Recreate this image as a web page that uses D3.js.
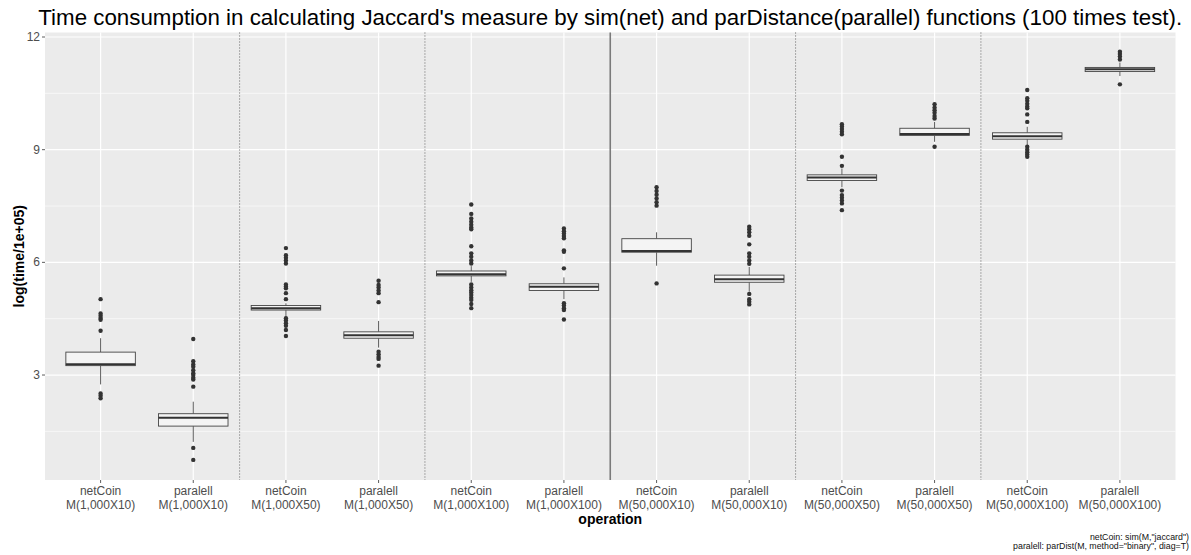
<!DOCTYPE html>
<html>
<head>
<meta charset="utf-8">
<script src="https://cdn.jsdelivr.net/npm/d3@7"></script>
<style>
  body { margin: 0; background: #fff; }
  text { font-family: "Liberation Sans", Arial, sans-serif; }
</style>
</head>
<body>
<svg id="chart" width="1191" height="555"></svg>
<script>
// categories (x axis)
const categories = ["nc1k10", "pa1k10", "nc1k50", "pa1k50", "nc1k100", "pa1k100",
                    "nc50k10", "pa50k10", "nc50k50", "pa50k50", "nc50k100", "pa50k100"];
const labelTop = ["netCoin", "paralell", "netCoin", "paralell", "netCoin", "paralell",
                  "netCoin", "paralell", "netCoin", "paralell", "netCoin", "paralell"];
const labelBottom = ["M(1,000X10)", "M(1,000X10)", "M(1,000X50)", "M(1,000X50)", "M(1,000X100)", "M(1,000X100)",
                     "M(50,000X10)", "M(50,000X10)", "M(50,000X50)", "M(50,000X50)", "M(50,000X100)", "M(50,000X100)"];

// box statistics
const whiskerLow  = [2.75, 1.22, 4.55, 3.73, 5.48, 5.02, 5.91, 5.22, 8.00, 9.21, 9.12, 10.96];
const q1          = [3.25, 1.64, 4.73, 3.98, 5.64, 5.25, 6.27, 5.47, 8.18, 9.38, 9.28, 11.08];
const median      = [3.29, 1.86, 4.78, 4.06, 5.68, 5.35, 6.30, 5.55, 8.26, 9.42, 9.36, 11.14];
const q3          = [3.61, 1.97, 4.85, 4.15, 5.77, 5.43, 6.63, 5.66, 8.33, 9.57, 9.45, 11.19];
const whiskerHigh = [3.98, 2.29, 4.91, 4.44, 5.90, 5.60, 6.80, 5.88, 8.50, 9.74, 9.61, 11.32];
const outliers = [
  [5.02, 4.64, 4.58, 4.52, 4.47, 4.18, 2.51, 2.45, 2.38],
  [3.96, 3.37, 3.28, 3.22, 3.13, 3.05, 3.00, 2.93, 2.88, 2.69, 1.06, 0.74],
  [6.38, 6.19, 6.12, 6.05, 5.97, 5.41, 5.36, 5.31, 5.18, 5.02, 4.51, 4.45, 4.38, 4.31, 4.20, 4.04],
  [5.51, 5.40, 5.33, 5.25, 5.18, 4.94, 3.62, 3.55, 3.48, 3.43, 3.25],
  [7.54, 7.29, 7.17, 7.08, 7.00, 6.93, 6.88, 6.43, 6.24, 6.15, 6.05, 5.97, 5.41, 5.33, 5.26, 5.20, 5.13, 5.06, 5.00, 4.89, 4.78],
  [6.90, 6.83, 6.77, 6.70, 6.64, 6.32, 6.28, 5.84, 4.91, 4.85, 4.78, 4.73, 4.48],
  [8.00, 7.90, 7.80, 7.70, 7.60, 7.51, 5.44],
  [6.95, 6.88, 6.80, 6.71, 6.48, 6.24, 6.15, 6.05, 5.96, 5.16, 5.02, 4.95, 4.88],
  [9.68, 9.62, 9.55, 9.48, 9.41, 8.81, 8.57, 7.91, 7.79, 7.72, 7.65, 7.57, 7.39],
  [10.21, 10.12, 10.05, 9.98, 9.90, 9.83, 9.08],
  [10.59, 10.37, 10.30, 10.22, 10.15, 10.10, 9.94, 9.74, 9.08, 9.00, 8.93, 8.87, 8.81],
  [11.61, 11.55, 11.48, 11.40, 10.74]
];

const yTicks = [3, 6, 9, 12];
const yMinor = [1.5, 4.5, 7.5, 10.5];
const dottedAfter = [1, 3, 7, 9];   // separator after these category indexes
const solidAfter = [5];

const titleText = "Time consumption in calculating Jaccard's measure by sim(net) and parDistance(parallel) functions (100 times test).";
const captionLines = ["netCoin: sim(M,\"jaccard\")", "paralell: parDist(M, method=\"binary\", diag=T)"];

const svg = d3.select("#chart");
const panel = {left: 45, right: 1175.5, top: 32.5, bottom: 480};

const x = d3.scalePoint()
    .domain(categories)
    .range([panel.left, panel.right])
    .padding(0.6);
const step = x.step();

const y = d3.scaleLinear()
    .domain([0.205, 12.12])
    .range([panel.bottom, panel.top]);

// panel background
svg.append("rect")
    .attr("x", panel.left).attr("y", panel.top)
    .attr("width", panel.right - panel.left)
    .attr("height", panel.bottom - panel.top)
    .attr("fill", "#EBEBEB");

// grid lines
svg.selectAll(".minor")
    .data(yMinor).enter().append("line")
    .attr("x1", panel.left).attr("x2", panel.right)
    .attr("y1", d => y(d)).attr("y2", d => y(d))
    .attr("stroke", "#fff").attr("stroke-width", 0.6);

svg.selectAll(".major")
    .data(yTicks).enter().append("line")
    .attr("x1", panel.left).attr("x2", panel.right)
    .attr("y1", d => y(d)).attr("y2", d => y(d))
    .attr("stroke", "#fff").attr("stroke-width", 1.2);

svg.selectAll(".vgrid")
    .data(categories).enter().append("line")
    .attr("x1", d => x(d)).attr("x2", d => x(d))
    .attr("y1", panel.top).attr("y2", panel.bottom)
    .attr("stroke", "#fff").attr("stroke-width", 1.2);

// separators
svg.selectAll(".dotsep")
    .data(dottedAfter).enter().append("line")
    .attr("x1", i => x(categories[i]) + step / 2).attr("x2", i => x(categories[i]) + step / 2)
    .attr("y1", panel.top).attr("y2", panel.bottom)
    .attr("stroke", "#444").attr("stroke-width", 0.8)
    .attr("stroke-dasharray", "1,2");

svg.selectAll(".solidsep")
    .data(solidAfter).enter().append("line")
    .attr("x1", i => x(categories[i]) + step / 2).attr("x2", i => x(categories[i]) + step / 2)
    .attr("y1", panel.top).attr("y2", panel.bottom)
    .attr("stroke", "#7a7a7a").attr("stroke-width", 1.6);

// boxes
const boxW = step * 0.75;
const boxes = svg.selectAll(".box")
    .data(categories).enter().append("g")
    .attr("class", "box");

boxes.append("line")
    .attr("x1", d => x(d)).attr("x2", d => x(d))
    .attr("y1", (d, i) => y(whiskerHigh[i])).attr("y2", (d, i) => y(q3[i]))
    .attr("stroke", "#333").attr("stroke-width", 0.8);

boxes.append("line")
    .attr("x1", d => x(d)).attr("x2", d => x(d))
    .attr("y1", (d, i) => y(q1[i])).attr("y2", (d, i) => y(whiskerLow[i]))
    .attr("stroke", "#333").attr("stroke-width", 0.8);

boxes.append("rect")
    .attr("x", d => x(d) - boxW / 2)
    .attr("width", boxW)
    .attr("y", (d, i) => y(q3[i]))
    .attr("height", (d, i) => y(q1[i]) - y(q3[i]))
    .attr("fill", "#F4F4F4")
    .attr("stroke", "#444").attr("stroke-width", 0.9);

boxes.append("line")
    .attr("x1", d => x(d) - boxW / 2).attr("x2", d => x(d) + boxW / 2)
    .attr("y1", (d, i) => y(median[i])).attr("y2", (d, i) => y(median[i]))
    .attr("stroke", "#333").attr("stroke-width", 2);

boxes.each(function(d, i) {
    d3.select(this).selectAll("circle")
        .data(outliers[i]).enter().append("circle")
        .attr("cx", x(d))
        .attr("cy", v => y(v))
        .attr("r", 2.2)
        .attr("fill", "#333");
});

// y axis
svg.selectAll(".ytick")
    .data(yTicks).enter().append("line")
    .attr("x1", panel.left - 3).attr("x2", panel.left)
    .attr("y1", d => y(d)).attr("y2", d => y(d))
    .attr("stroke", "#333").attr("stroke-width", 0.8);

svg.selectAll(".ylabel")
    .data(yTicks).enter().append("text")
    .attr("x", panel.left - 5)
    .attr("y", d => y(d) + 4)
    .attr("text-anchor", "end")
    .attr("font-size", 12)
    .attr("fill", "#4D4D4D")
    .text(d => d);

// x axis
svg.selectAll(".xtick")
    .data(categories).enter().append("line")
    .attr("x1", d => x(d)).attr("x2", d => x(d))
    .attr("y1", panel.bottom).attr("y2", panel.bottom + 3)
    .attr("stroke", "#333").attr("stroke-width", 0.8);

const xl = svg.selectAll(".xlabel")
    .data(categories).enter().append("text")
    .attr("text-anchor", "middle")
    .attr("font-size", 12)
    .attr("fill", "#4D4D4D");
xl.append("tspan")
    .attr("x", d => x(d)).attr("y", 495)
    .text((d, i) => labelTop[i]);
xl.append("tspan")
    .attr("x", d => x(d)).attr("y", 508.5)
    .text((d, i) => labelBottom[i]);

// axis titles
svg.append("text")
    .attr("x", (panel.left + panel.right) / 2)
    .attr("y", 524)
    .attr("text-anchor", "middle")
    .attr("font-size", 14)
    .attr("font-weight", "bold")
    .text("operation");

svg.append("text")
    .attr("transform", `translate(24,${(panel.top + panel.bottom) / 2}) rotate(-90)`)
    .attr("text-anchor", "middle")
    .attr("font-size", 14)
    .attr("font-weight", "bold")
    .text("log(time/1e+05)");

// title, sized to span the reference width
const title = svg.append("text")
    .attr("x", (panel.left + panel.right) / 2)
    .attr("y", 25)
    .attr("text-anchor", "middle")
    .attr("font-size", 21)
    .text(titleText);
const tw = title.node().getComputedTextLength();
title.attr("font-size", 21 * 1145 / tw);

// caption
svg.selectAll(".caption")
    .data(captionLines).enter().append("text")
    .attr("x", 1189)
    .attr("y", (d, i) => 540 + i * 9)
    .attr("text-anchor", "end")
    .attr("font-size", 8.8)
    .attr("fill", "#111")
    .text(d => d);
</script>
</body>
</html>
